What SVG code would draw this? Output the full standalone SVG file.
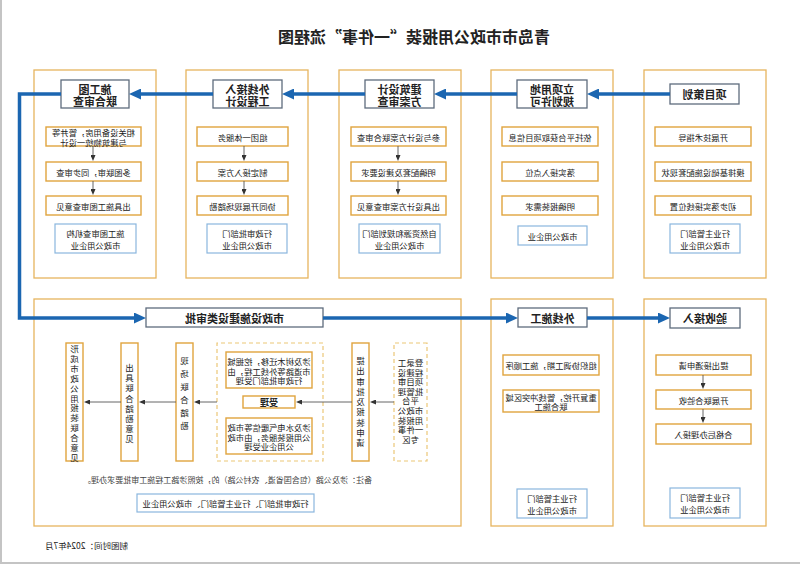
<svg xmlns="http://www.w3.org/2000/svg" width="800" height="565" viewBox="0 0 800 565">
<defs>
<marker id="ab" viewBox="0 0 12 11" refX="2" refY="5.5" markerWidth="12" markerHeight="11" orient="auto" markerUnits="userSpaceOnUse"><path d="M0,0 L12,5.5 L0,11 z" fill="#1b66b1"/></marker>
<marker id="ag" viewBox="0 0 6 5" refX="1" refY="2.5" markerWidth="6" markerHeight="5" orient="auto" markerUnits="userSpaceOnUse"><path d="M0,0 L6,2.5 L0,5 z" fill="#333"/></marker>
<style>
text{font-family:"Noto Sans CJK SC","Noto Sans",sans-serif;fill:#222;dominant-baseline:central;text-anchor:middle}
.panel{fill:#fff;stroke:#e6b45e;stroke-width:1.3}
.tb{fill:#fff;stroke:#5e6c7d;stroke-width:1.3}
.st{fill:#fff;stroke:#e0a43e;stroke-width:1.4}
.bl{fill:#fff;stroke:#8ab6de;stroke-width:1.2}
.dash{fill:none;stroke:#ecc777;stroke-width:1.2;stroke-dasharray:4 3}
.tt{font-size:11px;font-weight:bold;line-height:1}
.s{font-size:8.3px}
.v{font-size:8.5px}
.blue{fill:none;stroke:#1b66b1;stroke-width:3.5;marker-end:url(#ab)}
.gray{fill:none;stroke:#555;stroke-width:0.9;marker-end:url(#ag)}
</style>
</defs>
<rect x="0" y="0" width="800" height="565" fill="#fff"/>
<g transform="matrix(-1 0 0 1 800 0)">
<line x1="799" y1="0" x2="799" y2="563" stroke="#c4c4c4" stroke-width="2"/>
<line x1="0" y1="563" x2="800" y2="563" stroke="#c4c4c4" stroke-width="2"/>
<text x="386" y="36" style="font-size:16px;font-weight:bold">青岛市市政公用报装“一件事”流程图</text>

<g id="p1">
<rect class="panel" x="34" y="70" width="122" height="208"/>
<rect class="tb" x="61" y="84" width="69" height="20"/><text class="tt" x="95.5" y="94">项目策划</text>
<rect class="st" x="49" y="127" width="96" height="19"/><text class="s" x="97" y="136.5">开展技术指导</text>
<rect class="st" x="49" y="162" width="96" height="19"/><text class="s" x="97" y="171.5">摸排基础设施配套现状</text>
<rect class="st" x="49" y="196" width="96" height="19"/><text class="s" x="97" y="205.5">初步落实接线位置</text>
<rect class="bl" x="60" y="224" width="70" height="29"/><text class="s" x="95" y="233">行业主管部门</text><text class="s" x="95" y="245">市政公用企业</text>
</g>

<g id="p2">
<rect class="panel" x="187" y="70" width="122" height="208"/>
<rect class="tb" x="213" y="80" width="70" height="28"/><text class="tt" x="248" y="88.5">立项用地</text><text class="tt" x="248" y="100.5">规划许可</text>
<rect class="st" x="202" y="127" width="96" height="19"/><text class="s" x="250" y="136.5">依托平台获取项目信息</text>
<rect class="st" x="202" y="162" width="96" height="19"/><text class="s" x="250" y="171.5">落实接入点位</text>
<rect class="st" x="202" y="196" width="96" height="19"/><text class="s" x="250" y="205.5">明确报装需求</text>
<rect class="bl" x="213" y="226" width="69" height="19"/><text class="s" x="247.5" y="235.5">市政公用企业</text>
</g>

<g id="p3">
<rect class="panel" x="339" y="70" width="122" height="208"/>
<rect class="tb" x="366" y="80" width="69" height="28"/><text class="tt" x="400.5" y="88.5">建筑设计</text><text class="tt" x="400.5" y="100.5">方案审查</text>
<rect class="st" x="354" y="127" width="95" height="19"/><text class="s" x="401.5" y="136.5">参与设计方案联合审查</text>
<rect class="st" x="354" y="162" width="95" height="19"/><text class="s" x="401.5" y="171.5">明确配套及建设要求</text>
<rect class="st" x="354" y="196" width="95" height="19"/><text class="s" x="401.5" y="205.5">出具设计方案审查意见</text>
<rect class="bl" x="360" y="224" width="81" height="29"/><text class="s" x="400.5" y="233">自然资源和规划部门</text><text class="s" x="400.5" y="245">市政公用企业</text>
</g>

<g id="p4">
<rect class="panel" x="492" y="70" width="122" height="208"/>
<rect class="tb" x="518" y="80" width="69" height="28"/><text class="tt" x="552.5" y="88.5">外线接入</text><text class="tt" x="552.5" y="100.5">工程设计</text>
<rect class="st" x="512" y="127" width="91" height="19"/><text class="s" x="557.5" y="136.5">组团一体服务</text>
<rect class="st" x="512" y="162" width="91" height="19"/><text class="s" x="557.5" y="171.5">制定接入方案</text>
<rect class="st" x="512" y="196" width="91" height="19"/><text class="s" x="557.5" y="205.5">协同开展现场踏勘</text>
<rect class="bl" x="513" y="224" width="80" height="29"/><text class="s" x="553" y="233">行政审批部门</text><text class="s" x="553" y="245">市政公用企业</text>
</g>

<g id="p5">
<rect class="panel" x="644" y="70" width="122" height="208"/>
<rect class="tb" x="671" y="80" width="68" height="28"/><text class="tt" x="705" y="88.5">施工图</text><text class="tt" x="705" y="100.5">联合审查</text>
<rect class="st" x="659" y="127" width="95" height="19"/><text class="s" x="706.5" y="132">相关设备用房，管井等</text><text class="s" x="706.5" y="141.5">与建筑物统一设计</text>
<rect class="st" x="659" y="162" width="95" height="19"/><text class="s" x="706.5" y="171.5">多图联审，同步审查</text>
<rect class="st" x="659" y="196" width="95" height="19"/><text class="s" x="706.5" y="205.5">出具施工图审查意见</text>
<rect class="bl" x="664" y="224" width="81" height="29"/><text class="s" x="704.5" y="233">施工图审查机构</text><text class="s" x="704.5" y="245">市政公用企业</text>
</g>

<g id="p6">
<rect class="panel" x="339" y="299" width="427" height="227"/>
<rect class="tb" x="477" y="308" width="177" height="19"/><text class="tt" x="565.5" y="317.5">市政设施建设类审批</text>
<rect class="dash" x="373" y="343" width="33" height="118"/>
<text class="v" x="389.5"><tspan x="389.5" y="362">登录工</tspan><tspan x="389.5" y="371.6">程建设</tspan><tspan x="389.5" y="381.2">项目审</tspan><tspan x="389.5" y="390.8">批管理</tspan><tspan x="389.5" y="400.4">平台</tspan><tspan x="389.5" y="410">市政公</tspan><tspan x="389.5" y="419.6">用报装</tspan><tspan x="389.5" y="429.2">一件事</tspan><tspan x="389.5" y="438.8">专区</tspan></text>
<rect class="st" x="431" y="343" width="17" height="118"/>
<text class="v" x="439.5"><tspan x="439.5" y="360">提</tspan><tspan x="439.5" y="370.25">出</tspan><tspan x="439.5" y="380.5">审</tspan><tspan x="439.5" y="390.75">批</tspan><tspan x="439.5" y="401">及</tspan><tspan x="439.5" y="411.25">报</tspan><tspan x="439.5" y="421.5">装</tspan><tspan x="439.5" y="431.75">申</tspan><tspan x="439.5" y="442">请</tspan></text>
<rect class="dash" x="477" y="343" width="106" height="118"/>
<rect class="st" x="488" y="352" width="86" height="36"/>
<text class="s" x="531" y="361">涉及树木迁移，挖掘城</text><text class="s" x="531" y="370.5">市道路等外线工程，由</text><text class="s" x="531" y="380">行政审批部门受理</text>
<rect class="st" x="505" y="396" width="52" height="12"/><text class="s" x="531" y="402" style="font-weight:bold;font-size:9px">受理</text>
<rect class="st" x="488" y="418" width="86" height="36"/>
<text class="s" x="531" y="427">涉及水电气暖信等市政</text><text class="s" x="531" y="436.5">公用报装服务，由市政</text><text class="s" x="531" y="446">公用企业受理</text>
<rect class="st" x="607" y="343" width="17" height="118"/>
<text class="v" x="615.5"><tspan x="615.5" y="360">现</tspan><tspan x="615.5" y="373">场</tspan><tspan x="615.5" y="386">联</tspan><tspan x="615.5" y="399">合</tspan><tspan x="615.5" y="412">踏</tspan><tspan x="615.5" y="425">勘</tspan></text>
<rect class="st" x="662" y="343" width="17" height="118"/>
<text class="v" x="670.5"><tspan x="670.5" y="367">出</tspan><tspan x="670.5" y="377.2">具</tspan><tspan x="670.5" y="387.4">联</tspan><tspan x="670.5" y="397.6">合</tspan><tspan x="670.5" y="407.8">踏</tspan><tspan x="670.5" y="418">勘</tspan><tspan x="670.5" y="428.2">意</tspan><tspan x="670.5" y="438.4">见</tspan></text>
<rect class="st" x="717" y="343" width="17" height="118"/>
<text class="v" x="725.5"><tspan x="725.5" y="348">形</tspan><tspan x="725.5" y="357.9">成</tspan><tspan x="725.5" y="367.8">市</tspan><tspan x="725.5" y="377.7">政</tspan><tspan x="725.5" y="387.6">公</tspan><tspan x="725.5" y="397.5">用</tspan><tspan x="725.5" y="407.4">报</tspan><tspan x="725.5" y="417.3">装</tspan><tspan x="725.5" y="427.2">联</tspan><tspan x="725.5" y="437.1">合</tspan><tspan x="725.5" y="447">意</tspan><tspan x="725.5" y="456.9">见</tspan></text>
<text x="428" y="479" style="font-size:8px;text-anchor:start;fill:#444" textLength="289" lengthAdjust="spacingAndGlyphs">备注：涉及公路（包含国省道、农村公路）的，按照涉路工程施工审批要求办理。</text>
<rect class="bl" x="486" y="494" width="177" height="18"/><text class="s" x="574.5" y="503">行政审批部门、行业主管部门、市政公用企业</text>
</g>

<g id="p7">
<rect class="panel" x="187" y="299" width="122" height="227"/>
<rect class="tb" x="213" y="308" width="69" height="19"/><text class="tt" x="247.5" y="317.5">外线施工</text>
<rect class="st" x="201" y="355" width="96" height="20"/><text class="s" x="249" y="365">组织协调工期，施工顺序</text>
<rect class="st" x="201" y="390" width="96" height="22"/><text class="s" x="249" y="396.5">重复开挖，管线冲突区域</text><text class="s" x="249" y="406">联合施工</text>
<rect class="bl" x="213" y="489" width="70" height="29"/><text class="s" x="248" y="498">行业主管部门</text><text class="s" x="248" y="510">市政公用企业</text>
</g>

<g id="p8">
<rect class="panel" x="34" y="299" width="122" height="227"/>
<rect class="tb" x="60" y="308" width="70" height="20"/><text class="tt" x="95" y="318">验收接入</text>
<rect class="st" x="49" y="355" width="95" height="20"/><text class="s" x="96.5" y="365">提出接通申请</text>
<rect class="st" x="49" y="390" width="95" height="19"/><text class="s" x="96.5" y="399.5">开展联合验收</text>
<rect class="st" x="49" y="424" width="95" height="20"/><text class="s" x="96.5" y="434">合格后办理接入</text>
<rect class="bl" x="60" y="488" width="70" height="30"/><text class="s" x="95" y="497">行业主管部门</text><text class="s" x="95" y="509">市政公用企业</text>
</g>

<text x="672" y="545" style="font-size:8.5px;text-anchor:start">制图时间：2024年7月</text>

<g id="connectors">
<path class="blue" d="M130,94 H203"/>
<path class="blue" d="M283,94 H356"/>
<path class="blue" d="M435,94 H508"/>
<path class="blue" d="M587,94 H661"/>
<path class="blue" d="M739,94 H780.5 V318 H664"/>
<path class="blue" d="M477,318 H292"/>
<path class="blue" d="M213,318 H140"/>
<path class="gray" d="M402,146 V156"/>
<path class="gray" d="M402,181 V190"/>
<path class="gray" d="M556,146 V156"/>
<path class="gray" d="M556,181 V190"/>
<path class="gray" d="M707,146 V156"/>
<path class="gray" d="M707,181 V190"/>
<path class="gray" d="M97,375 V384"/>
<path class="gray" d="M97,409 V418"/>
<path class="gray" d="M406,402 H425"/>
<path class="gray" d="M448,402 H499"/>
<path class="gray" d="M583,402 H601"/>
<path class="gray" d="M624,402 H656"/>
<path class="gray" d="M679,402 H711"/>
</g>
</g>
</svg>
